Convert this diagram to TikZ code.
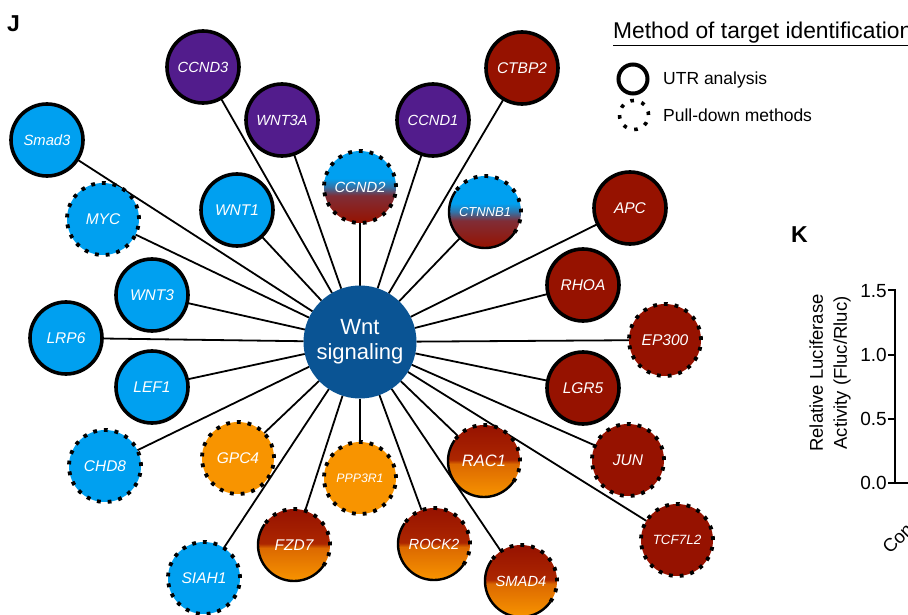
\documentclass[tikz,border=0pt]{standalone}
\usepackage{fontspec}
\setmainfont{Liberation Sans}
\usetikzlibrary{backgrounds}
\definecolor{cblue}{RGB}{0,160,240}
\definecolor{cpurple}{RGB}{82,28,140}
\definecolor{cred}{RGB}{150,18,0}
\definecolor{credlight}{RGB}{172,38,0}
\definecolor{corange}{RGB}{248,148,0}
\definecolor{cwnt}{RGB}{10,84,148}
\definecolor{cbrown}{RGB}{128,45,55}
\definecolor{cmidor}{RGB}{220,105,0}
\pgfdeclareverticalshading{blueredsh}{100bp}{color(0bp)=(cred); color(25bp)=(cred); color(44bp)=(cbrown); color(50bp)=(cblue!60!cbrown); color(56bp)=(cblue); color(75bp)=(cblue); color(100bp)=(cblue)}
\pgfdeclareverticalshading{redorsh}{100bp}{color(0bp)=(corange); color(25bp)=(corange); color(48bp)=(cmidor); color(51bp)=(credlight); color(75bp)=(cred); color(100bp)=(cred)}
\newcommand{\mixedborder}[1]{%
  \draw[line width=2.4pt] ([shift={(145:36pt)}]#1.center) arc[start angle=145, end angle=325, radius=36pt];
  \draw[dotbd] ([shift={(325:36pt)}]#1.center) arc[start angle=325, end angle=505, radius=36pt];}
\tikzset{
  gene/.style={circle, minimum size=72pt, inner sep=0pt, outer sep=0pt, text=white, font=\fontsize{15.5}{16}\selectfont\itshape},
  fs/.style={font=\fontsize{#1}{#1}\selectfont\itshape},
  solidbd/.style={draw=black, line width=3.6pt},
  dotbd/.style={draw=black, line width=3.8pt, dash pattern=on 3.8pt off 6.97pt},
  sblue/.style={gene, fill=cblue, solidbd},
  dblue/.style={gene, fill=cblue, dotbd},
  spurple/.style={gene, fill=cpurple, solidbd},
  sred/.style={gene, fill=cred, solidbd},
  dred/.style={gene, fill=cred, dotbd},
  dorange/.style={gene, fill=corange, dotbd},
  gbr/.style={gene, shade, shading=blueredsh},
  gro/.style={gene, shade, shading=redorsh},
  conn/.style={line width=1.8pt, black},
  axisline/.style={line width=2.8pt, black},
  ticklab/.style={anchor=east, inner sep=0pt, font=\fontsize{19}{19}\selectfont},
  legtext/.style={anchor=base west, inner sep=0pt, font=\fontsize{17.5}{19}\selectfont},
}
\begin{document}
\begin{tikzpicture}[x=1pt,y=1pt]
\useasboundingbox (0,0) rectangle (908,-615);
% panel letters
\node[anchor=base west, inner sep=0pt, font=\bfseries\fontsize{23}{25}\selectfont] (J) at (7,-32) {J};
\node[anchor=base west, inner sep=0pt, font=\bfseries\fontsize{23}{25}\selectfont] (K) at (791,-242) {K};
% center
\node[circle, minimum size=113pt, inner sep=0pt, outer sep=0pt, fill=cwnt, text=white, align=center, font=\fontsize{22}{25}\selectfont] (wnt) at (360,-342) {Wnt\\signaling};
% genes
\node[spurple, fs=14.7] (ccnd3) at (203,-67) {CCND3};
\node[spurple, fs=14.7] (wnt3a) at (282,-120) {WNT3A};
\node[spurple, fs=14.7] (ccnd1) at (433,-120) {CCND1};
\node[sred] (ctbp2) at (522,-68) {CTBP2};
\node[sblue, fs=14.8] (smad3) at (47,-140) {Smad3};
\node[gbr, dotbd, fs=14.8] (ccnd2) at (360,-187) {CCND2};
\node[gbr, fs=13] (ctnnb1) at (485,-212) {CTNNB1};
\node[sblue] (wnt1) at (237,-210) {WNT1};
\node[dblue] (myc) at (103,-219) {MYC};
\node[sred] (apc) at (630,-208) {APC};
\node[sblue] (wnt3) at (152,-295) {WNT3};
\node[sred] (rhoa) at (583,-285) {RHOA};
\node[sblue] (lrp6) at (66,-338) {LRP6};
\node[dred] (ep300) at (665,-340) {EP300};
\node[sblue] (lef1) at (152,-387) {LEF1};
\node[sred] (lgr5) at (583,-388) {LGR5};
\node[dblue] (chd8) at (105,-466) {CHD8};
\node[dorange] (gpc4) at (238,-458) {GPC4};
\node[dorange, fs=12.3] (ppp3r1) at (360,-478) {PPP3R1};
\node[gro, fs=16.5] (rac1) at (484,-461) {RAC1};
\node[dred] (jun) at (628,-460) {JUN};
\node[gro] (fzd7) at (294,-545) {FZD7};
\node[gro, fs=14.7] (rock2) at (434,-544) {ROCK2};
\node[dblue] (siah1) at (204,-578) {SIAH1};
\node[gro, fs=14.7] (smad4) at (521,-581) {SMAD4};
\node[dred, fs=13.4] (tcf7l2) at (677,-540) {TCF7L2};
% mixed borders
\mixedborder{ctnnb1}
\mixedborder{rac1}
\mixedborder{fzd7}
\mixedborder{rock2}
\mixedborder{smad4}
% connectors
\begin{scope}[on background layer]
\foreach \n in {ccnd3,wnt3a,ccnd1,ctbp2,smad3,ccnd2,ctnnb1,wnt1,myc,apc,wnt3,rhoa,lrp6,ep300,lef1,lgr5,chd8,gpc4,ppp3r1,rac1,jun,fzd7,rock2,siah1,smad4,tcf7l2}
  \draw[conn] (wnt) -- (\n);
\end{scope}
% legend
\node[anchor=base west, inner sep=0pt, font=\fontsize{22.8}{25}\selectfont] (legtitle) at (613,-39) {\underline{Method of target identification}};
\node[circle, minimum size=29pt, inner sep=0pt, draw=black, line width=4pt] (legsolid) at (633,-79) {};
\node[circle, minimum size=29pt, inner sep=0pt, draw=black, line width=3.6pt, dash pattern=on 3.6pt off 7.8pt] (legdot) at (634,-115) {};
\node[legtext] (utr) at (663,-85) {UTR analysis};
\node[legtext] (pull) at (663,-122) {Pull-down methods};
% panel K axis
\draw[axisline] (895,-289) -- (895,-483) -- (915,-483);
\draw[axisline] (888,-290) -- (895,-290);
\draw[axisline] (888,-355) -- (895,-355);
\draw[axisline] (888,-419) -- (895,-419);
\draw[axisline] (888,-483) -- (895,-483);
\node[ticklab] (t15) at (887,-291) {1.5};
\node[ticklab] (t10) at (887,-355) {1.0};
\node[ticklab] (t05) at (887,-419) {0.5};
\node[ticklab] (t00) at (887,-483) {0.0};
\node[rotate=90, align=center, inner sep=0pt, font=\fontsize{18.5}{24}\selectfont] (ylab) at (830,-373) {Relative Luciferase\\Activity (Fluc/Rluc)};
\node[rotate=45, anchor=base west, inner sep=0pt, font=\fontsize{18.5}{20}\selectfont] (con) at (890,-555) {Con};
\end{tikzpicture}
\end{document}
